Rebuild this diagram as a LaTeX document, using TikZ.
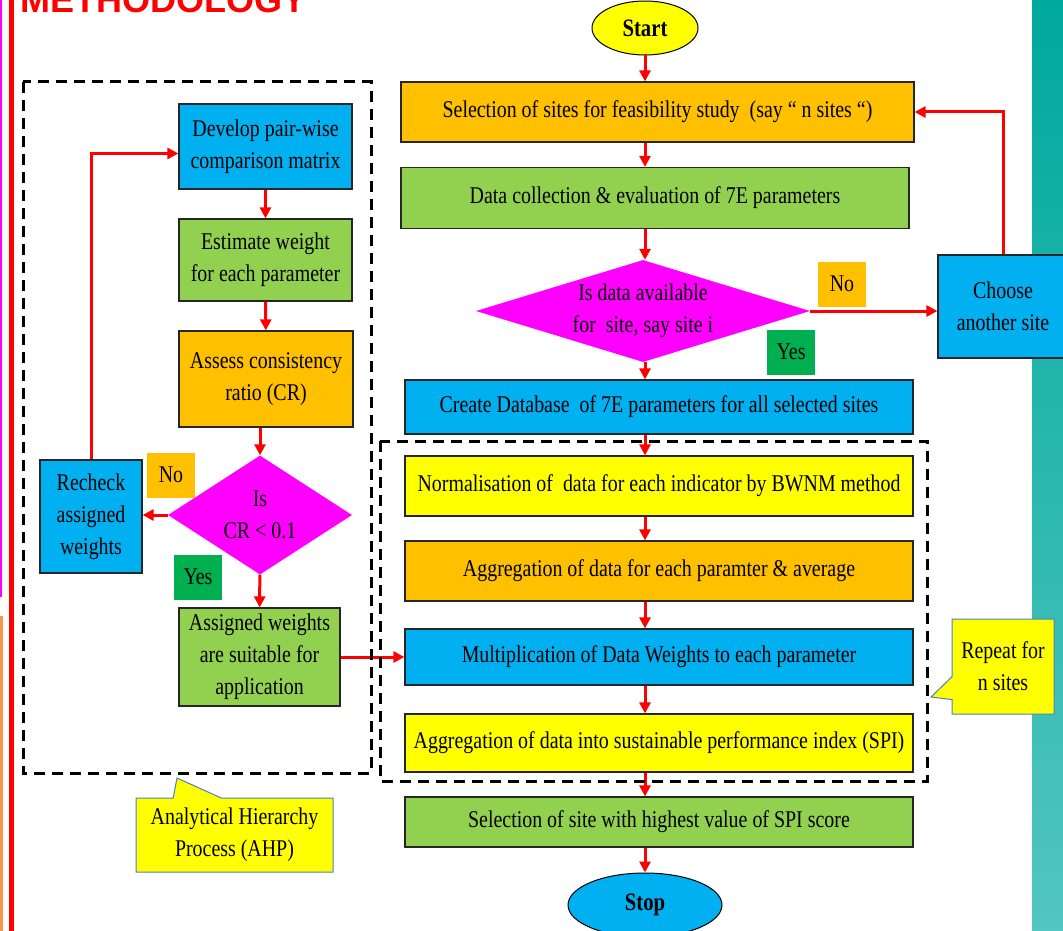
\documentclass[tikz,border=0pt]{standalone}
\usepackage{fontspec}
\setmainfont[FakeStretch=0.83]{Liberation Serif}
\newfontfamily\headfont{Liberation Sans}
\usetikzlibrary{arrows.meta,shapes.geometric,shapes.callouts}
\definecolor{boxorange}{HTML}{FFC000}
\definecolor{boxgreen}{HTML}{92D050}
\definecolor{boxblue}{HTML}{00B0F0}
\definecolor{boxyellow}{HTML}{FFFF00}
\definecolor{decmagenta}{HTML}{FF00FF}
\definecolor{yesgreen}{HTML}{00B050}
\definecolor{tealtop}{HTML}{00A99D}
\definecolor{tealbot}{HTML}{52C6C0}
\definecolor{noteline}{HTML}{4F81BD}
\definecolor{edgeorange}{HTML}{F79646}
\begin{document}
\begin{tikzpicture}[x=1pt, y=-1pt, >={Triangle[length=11pt,width=11pt]},
  txt/.style={font=\fontsize{24}{32}\selectfont, align=center},
  box/.style={txt, draw=black!85, line width=1.2pt, inner sep=0pt},
  dec/.style={txt, diamond, fill=decmagenta, inner sep=-12pt},
  tag/.style={txt, minimum width=48pt, minimum height=45pt, inner sep=0pt},
  term/.style={ellipse, draw=black, line width=1pt, inner sep=0pt,
    font=\fontsize{25}{30}\selectfont\bfseries},
  note/.style={txt, rectangle callout, fill=boxyellow, draw=noteline,
    line width=1pt, inner sep=0pt},
  flow/.style={->, red, line width=3pt},
  group/.style={line width=3pt, dash pattern=on 11pt off 7pt}]
  \useasboundingbox (0,0) rectangle (1063,931);
  \clip (0,0) rectangle (1063,931);

  % page decoration
  \shade[top color=tealtop, bottom color=tealbot] (1032,0) rectangle (1063,931);
  \draw[decmagenta, line width=1.5pt] (1,0) -- (1,597);
  \fill[edgeorange] (0,616) rectangle (2.5,931);
  \draw[red, line width=5pt] (11,0) -- (11,931);
  \node[red, anchor=base west, inner sep=0pt,
    font=\headfont\fontsize{36}{36}\selectfont\bfseries] (title) at (20,13) {METHODOLOGY};

  % main column
  \node[term, fill=boxyellow, minimum width=106pt, minimum height=54pt] (start) at (645,28) {Start};
  \node[box, fill=boxorange, minimum width=513pt, minimum height=60pt] (sel) at (657.5,112)
    {Selection of sites for feasibility study~ (say “ n sites “)};
  \node[box, fill=boxgreen, minimum width=508pt, minimum height=61pt] (data) at (655,198)
    {Data collection \& evaluation of 7E parameters};
  \node[dec, aspect=3.2, minimum width=334pt, minimum height=102pt] (avail) at (643,311)
    {Is data available\\for~ site, say site i};
  \node[box, fill=boxblue, minimum width=130pt, minimum height=103pt] (choose) at (1003,306.5)
    {Choose\\another site};
  \node[box, fill=boxblue, minimum width=508pt, minimum height=54pt] (db) at (659,407)
    {Create Database~ of 7E parameters for all selected sites};
  \node[box, fill=boxyellow, minimum width=508pt, minimum height=60pt] (norm) at (659,486)
    {Normalisation of~ data for each indicator by BWNM method};
  \node[box, fill=boxorange, minimum width=508pt, minimum height=60pt] (aggr) at (659,571)
    {Aggregation of data for each paramter \& average};
  \node[box, fill=boxblue, minimum width=508pt, minimum height=56pt] (mult) at (659,657)
    {Multiplication of Data Weights to each parameter};
  \node[box, fill=boxyellow, minimum width=508pt, minimum height=58pt] (spi) at (659,743)
    {Aggregation of data into sustainable performance index (SPI)};
  \node[box, fill=boxgreen, minimum width=508pt, minimum height=50pt] (best) at (659,822)
    {Selection of site with highest value of SPI score};
  \node[term, fill=boxblue, minimum width=154pt, minimum height=64pt] (stop) at (645,905) {Stop};
  \node[tag, fill=boxorange] (no1) at (842,284) {No};
  \node[tag, fill=yesgreen] (yes1) at (791,352) {Yes};

  % AHP column
  \node[box, fill=boxblue, minimum width=173pt, minimum height=85pt] (develop) at (265.5,146.5)
    {Develop pair-wise\\comparison matrix};
  \node[box, fill=boxgreen, minimum width=173pt, minimum height=82pt] (estimate) at (265.5,260)
    {Estimate weight\\for each parameter};
  \node[box, fill=boxorange, minimum width=174pt, minimum height=96pt] (assess) at (266,379)
    {Assess consistency\\ratio (CR)};
  \node[dec, aspect=1.55, minimum width=184pt, minimum height=119pt] (cr) at (260,515)
    {Is\\CR < 0.1};
  \node[box, fill=boxblue, minimum width=102pt, minimum height=113pt] (recheck) at (91,516.5)
    {Recheck\\assigned\\weights};
  \node[box, fill=boxgreen, minimum width=161pt, minimum height=98pt] (assigned) at (259.5,657)
    {Assigned weights\\are suitable for\\application};
  \node[tag, fill=boxorange] (no2) at (171,475) {No};
  \node[tag, fill=yesgreen] (yes2) at (198,577) {Yes};

  % connectors
  \draw[flow] (start.south) -- (start.south |- sel.north);
  \foreach \a/\b in {sel/data, data/avail, avail/db, db/norm, norm/aggr,
      aggr/mult, mult/spi, spi/best, best/stop}
    \draw[flow] (\a.south -| start) -- (\b.north -| start);
  \draw[flow] (avail.east) -- (choose.west |- avail.east);
  \draw[flow] (choose.north) |- (sel.east);
  \foreach \a/\b in {develop/estimate, estimate/assess}
    \draw[flow] (\a) -- (\b);
  \draw[flow] (assess.south -| cr) -- (cr.north);
  \draw[flow] (cr) -- (assigned);
  \draw[flow] (cr.west) -- (recheck.east |- cr.west);
  \draw[flow] (recheck.north) |- ([yshift=-7pt]develop.west);
  \draw[flow] (assigned.east) -- (mult.west |- assigned.east);

  % groups
  \draw[group] (23,82) rectangle (371,773);
  \draw[group] (380,441) rectangle (927,781);
  \node[note, minimum width=197pt, minimum height=74pt, callout pointer width=48pt,
    callout absolute pointer={(177,778)}] (ahp) at (234.5,835)
    {Analytical Hierarchy\\Process (AHP)};
  \node[note, minimum width=102pt, minimum height=95pt, callout pointer width=23pt,
    callout absolute pointer={(931,697)}] (repeat) at (1003,666.5)
    {Repeat for\\n sites};
\end{tikzpicture}
\end{document}
